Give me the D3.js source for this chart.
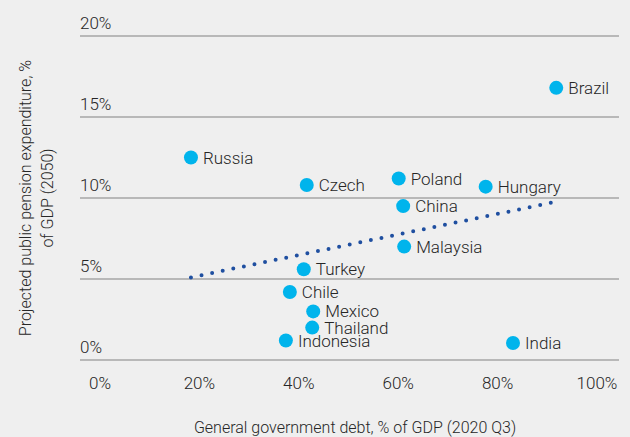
<!DOCTYPE html>
<html>
<head>
<meta charset="utf-8">
<script src="https://cdn.jsdelivr.net/npm/d3@7"></script>
<style>
  body { margin: 0; background: #efefef; }
  svg { display: block; font-family: Roboto, "Liberation Sans", sans-serif; font-weight: 300; }
</style>
</head>
<body>
<div id="chart"></div>
<script>
// values
const countries = ["Russia", "Czech", "Poland", "Hungary", "China", "Brazil", "Malaysia",
                   "Turkey", "Chile", "Mexico", "Thailand", "Indonesia", "India"];
const debt      = [18.3, 41.6, 60.1, 77.6, 61.0, 91.8, 61.2, 41.0, 38.2, 42.9, 42.7, 37.4, 83.1];
const pension   = [12.5, 10.8, 11.2, 10.7, 9.5, 16.8, 7.0, 5.6, 4.2, 3.0, 2.0, 1.2, 1.05];
const trendX    = [18.3, 90.7];
const trendY    = [5.1, 9.7];
const yTicks    = [0, 5, 10, 15, 20];
const xTicks    = [0, 20, 40, 60, 80, 100];

const width = 630, height = 437;

const svg = d3.select("#chart").append("svg")
    .attr("width", width)
    .attr("height", height);

svg.append("rect")
    .attr("width", width)
    .attr("height", height)
    .attr("fill", "#efefef");

const x = d3.scaleLinear().domain([0, 100]).range([100, 597]);
const y = d3.scaleLinear().domain([0, 20]).range([360, 36]);

// horizontal gridlines with labels above them
const grid = svg.append("g");
grid.selectAll("line")
    .data(yTicks)
    .enter().append("line")
        .attr("x1", 80)
        .attr("x2", 619)
        .attr("y1", d => y(d))
        .attr("y2", d => y(d))
        .attr("stroke", "#a6a6a6")
        .attr("stroke-width", 1.5);

grid.selectAll("text")
    .data(yTicks)
    .enter().append("text")
        .attr("x", 80)
        .attr("y", d => y(d) - 7)
        .attr("fill", "#262626")
        .style("font-size", "17px")
        .text(d => d + "%");

// x tick labels
svg.append("g").selectAll("text")
    .data(xTicks)
    .enter().append("text")
        .attr("x", d => x(d))
        .attr("y", 389)
        .attr("text-anchor", "middle")
        .attr("fill", "#262626")
        .style("font-size", "17px")
        .text(d => d + "%");

// axis titles
svg.append("text")
    .attr("x", 355)
    .attr("y", 433)
    .attr("text-anchor", "middle")
    .attr("fill", "#262626")
    .style("font-size", "16px")
    .text("General government debt, % of GDP (2020 Q3)");

const yTitle = svg.append("text")
    .attr("transform", "translate(0,198) rotate(-90)")
    .attr("text-anchor", "middle")
    .attr("fill", "#262626")
    .style("font-size", "16px");
yTitle.append("tspan").attr("x", 0).attr("y", 31).text("Projected public pension expenditure, %");
yTitle.append("tspan").attr("x", 0).attr("y", 53).text("of GDP (2050)");

// dotted trend line, gap chosen so a dot lands on both ends
const tx1 = x(trendX[0]), ty1 = y(trendY[0]), tx2 = x(trendX[1]), ty2 = y(trendY[1]);
const tLen = Math.hypot(tx2 - tx1, ty2 - ty1);
svg.append("line")
    .attr("x1", tx1)
    .attr("y1", ty1)
    .attr("x2", tx2)
    .attr("y2", ty2)
    .attr("stroke", "#1f4fa0")
    .attr("stroke-width", 4)
    .attr("stroke-linecap", "round")
    .attr("stroke-dasharray", `0 ${tLen / 34}`);

// points
const pts = svg.append("g").selectAll("g")
    .data(countries)
    .enter().append("g")
        .attr("transform", (d, i) => `translate(${x(debt[i])},${y(pension[i])})`);

pts.append("circle")
    .attr("r", 7)
    .attr("fill", "#00b4ec");

pts.append("text")
    .attr("x", 12)
    .attr("y", 6)
    .attr("fill", "#262626")
    .style("font-size", "17px")
    .text(d => d);
</script>
</body>
</html>
